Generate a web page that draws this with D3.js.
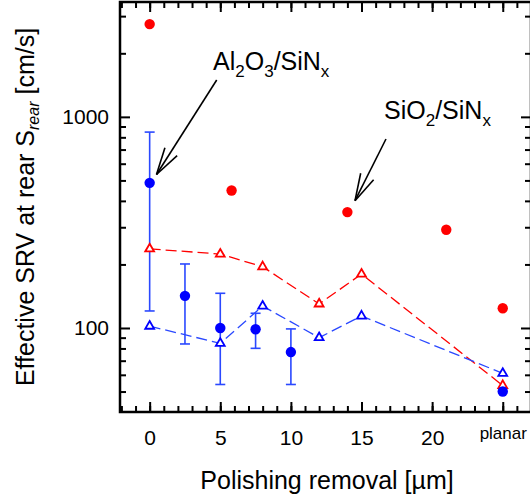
<!DOCTYPE html>
<html>
<head>
<meta charset="utf-8">
<script src="https://cdn.jsdelivr.net/npm/d3@7"></script>
<style>
  html, body { margin: 0; padding: 0; background: #fff; }
  svg { display: block; }
  text { font-family: "Liberation Sans", Arial, sans-serif; fill: #000; }
</style>
</head>
<body>
<svg id="chart" width="530" height="498"></svg>
<script>
// SiO2/SiNx passivated rear, measured SRV (filled red circles)
const sio2X = [0, 5.8, 14, 21, 25];
const sio2Y = [2750, 448, 354, 292, 124];

// Al2O3/SiNx passivated rear, measured SRV with spread (filled blue circles)
const al2o3X = [0, 2.5, 5, 7.5, 10, 25];
const al2o3Y = [487, 142, 100, 98.6, 76.9, 50];
const al2o3Hi = [847, 201, 146, 117.4, 99, null];
const al2o3Lo = [120.4, 84, 54, 80.1, 54, null];

// Second sample set (open triangles, dashed lines)
const triX = [0, 5, 8, 12, 15, 25];
const sio2TriY = [237, 224, 195, 130, 180, 53.4];
const al2o3TriY = [102, 84.6, 127, 90, 114, 61];

// Axis ticks
const xMajor = [0, 5, 10, 15, 20, 25];
const xTickLabels = ["0", "5", "10", "15", "20", "planar"];
const xMinor = d3.range(-2, 28, 1);
const yMajor = [100, 1000];
const yMinor = [50, 60, 70, 80, 90, 200, 300, 400, 500, 600, 700, 800, 900, 2000, 3000];

const RED = "#ff0000";
const BLUE = "#0000ff";
const BLUE_BAR = "#2a48ff";

const plotL = 120, plotR = 531, plotT = 2, plotB = 412;
const svg = d3.select("#chart");

const x = d3.scaleLinear().domain([-2.1, 27]).range([plotL, plotR]);
const y = d3.scaleLog().domain([40, 3500]).range([plotB, plotT]);

// ---- axes with inward ticks ----
function styleAxis(g) {
  g.select(".domain").remove();
  g.selectAll(".tick line").attr("stroke", "#000").attr("stroke-width", 2);
}
const majLen = 10, minLen = 6;

// bottom
svg.append("g").attr("transform", `translate(0,${plotB})`)
  .call(d3.axisBottom(x).tickValues(xMinor).tickSize(-minLen).tickFormat(""))
  .call(styleAxis);
svg.append("g").attr("transform", `translate(0,${plotB})`)
  .call(d3.axisBottom(x).tickValues(xMajor).tickSize(-majLen).tickPadding(18)
    .tickFormat((d, i) => xTickLabels[i]))
  .call(styleAxis)
  .call(g => g.selectAll("text")
    .attr("font-size", (d, i) => i === 5 ? 17 : 21)
    .attr("dy", (d, i) => i === 5 ? "0.55em" : "0.71em")
    .style("font-family", "Liberation Sans, Arial, sans-serif"));

// top
svg.append("g").attr("transform", `translate(0,${plotT})`)
  .call(d3.axisTop(x).tickValues(xMinor).tickSize(-minLen).tickFormat(""))
  .call(styleAxis);
svg.append("g").attr("transform", `translate(0,${plotT})`)
  .call(d3.axisTop(x).tickValues(xMajor).tickSize(-majLen).tickFormat(""))
  .call(styleAxis);

// left
svg.append("g").attr("transform", `translate(${plotL},0)`)
  .call(d3.axisLeft(y).tickValues(yMinor).tickSize(-minLen).tickFormat(""))
  .call(styleAxis);
svg.append("g").attr("transform", `translate(${plotL},0)`)
  .call(d3.axisLeft(y).tickValues(yMajor).tickSize(-majLen).tickPadding(11)
    .tickFormat(d3.format("d")))
  .call(styleAxis)
  .call(g => g.selectAll("text").attr("font-size", 21)
    .style("font-family", "Liberation Sans, Arial, sans-serif"));

// right
svg.append("g").attr("transform", `translate(${plotR},0)`)
  .call(d3.axisRight(y).tickValues(yMinor).tickSize(-minLen).tickFormat(""))
  .call(styleAxis);
svg.append("g").attr("transform", `translate(${plotR},0)`)
  .call(d3.axisRight(y).tickValues(yMajor).tickSize(-majLen).tickFormat(""))
  .call(styleAxis);

// frame
svg.append("rect")
  .attr("x", plotL).attr("y", plotT)
  .attr("width", plotR - plotL).attr("height", plotB - plotT)
  .attr("fill", "none").attr("stroke", "#000").attr("stroke-width", 2.5);

// ---- dashed connecting lines ----
const line = d3.line().x(d => x(d[0])).y(d => y(d[1]));
svg.append("path")
  .datum(triX.map((v, i) => [v, sio2TriY[i]]))
  .attr("d", line).attr("fill", "none")
  .attr("stroke", RED).attr("stroke-width", 1.3).attr("stroke-dasharray", "11,5");
svg.append("path")
  .datum(triX.map((v, i) => [v, al2o3TriY[i]]))
  .attr("d", line).attr("fill", "none")
  .attr("stroke", BLUE_BAR).attr("stroke-width", 1.3).attr("stroke-dasharray", "11,5");

// ---- error bars ----
const bars = al2o3X.map((v, i) => ({ x: v, hi: al2o3Hi[i], lo: al2o3Lo[i] }))
  .filter(d => d.hi != null);
const eb = svg.append("g").attr("stroke", BLUE_BAR).attr("stroke-width", 1.6);
bars.forEach(d => {
  eb.append("line").attr("x1", x(d.x)).attr("x2", x(d.x))
    .attr("y1", y(d.hi)).attr("y2", y(d.lo));
  eb.append("line").attr("x1", x(d.x) - 5).attr("x2", x(d.x) + 5)
    .attr("y1", y(d.hi)).attr("y2", y(d.hi));
  eb.append("line").attr("x1", x(d.x) - 5).attr("x2", x(d.x) + 5)
    .attr("y1", y(d.lo)).attr("y2", y(d.lo));
});

// ---- triangles ----
const tri = d3.symbol().type(d3.symbolTriangle).size(34);
function triangles(ys, color) {
  svg.append("g").selectAll("path")
    .data(triX.map((v, i) => [v, ys[i]]))
    .join("path")
    .attr("d", tri)
    .attr("transform", d => `translate(${x(d[0])},${y(d[1])})`)
    .attr("fill", "#fff").attr("stroke", color).attr("stroke-width", 1.8);
}
triangles(sio2TriY, RED);
triangles(al2o3TriY, BLUE);

// ---- filled circles ----
svg.append("g").selectAll("circle")
  .data(sio2X.map((v, i) => [v, sio2Y[i]]))
  .join("circle")
  .attr("cx", d => x(d[0])).attr("cy", d => y(d[1])).attr("r", 5.2)
  .attr("fill", RED);
svg.append("g").selectAll("circle")
  .data(al2o3X.map((v, i) => [v, al2o3Y[i]]))
  .join("circle")
  .attr("cx", d => x(d[0])).attr("cy", d => y(d[1])).attr("r", 5.2)
  .attr("fill", BLUE);

// ---- annotations ----
function chem(xp, yp, parts) {
  const t = svg.append("text").attr("x", xp).attr("y", yp).attr("font-size", 25);
  parts.forEach(p => {
    t.append("tspan").text(p[0])
      .attr("font-size", p[1] ? 17 : 25)
      .attr("dy", p[1] ? 7 : (p[2] ? -7 : 0));
  });
}
chem(213, 69.5, [["Al"], ["2", true], ["O", false, true], ["3", true], ["/SiN", false, true], ["x", true]]);
chem(384, 118.5, [["SiO"], ["2", true], ["/SiN", false, true], ["x", true]]);

function arrow(x0, y0, x1, y1) {
  const g = svg.append("g").attr("stroke", "#000").attr("stroke-width", 1.6).attr("fill", "none");
  g.append("line").attr("x1", x0).attr("y1", y0).attr("x2", x1).attr("y2", y1);
  const ang = Math.atan2(y0 - y1, x0 - x1);
  const L = 28, a = 15 * Math.PI / 180;
  [ang - a, ang + a].forEach(t => {
    g.append("line").attr("x1", x1).attr("y1", y1)
      .attr("x2", x1 + L * Math.cos(t)).attr("y2", y1 + L * Math.sin(t));
  });
}
arrow(216.7, 80, 156.5, 174.5);
arrow(386, 139, 355, 200.7);

// ---- axis titles ----
svg.append("text")
  .attr("x", 327).attr("y", 489)
  .attr("text-anchor", "middle").attr("font-size", 25)
  .text("Polishing removal [µm]");

const yl = svg.append("text")
  .attr("transform", "translate(34,207) rotate(-90)")
  .attr("text-anchor", "middle").attr("font-size", 25);
yl.append("tspan").text("Effective SRV at rear S");
yl.append("tspan").text("rear").attr("font-style", "italic").attr("font-size", 16).attr("dy", 5);
yl.append("tspan").text(" [cm/s]").attr("dy", -5);
</script>
</body>
</html>
